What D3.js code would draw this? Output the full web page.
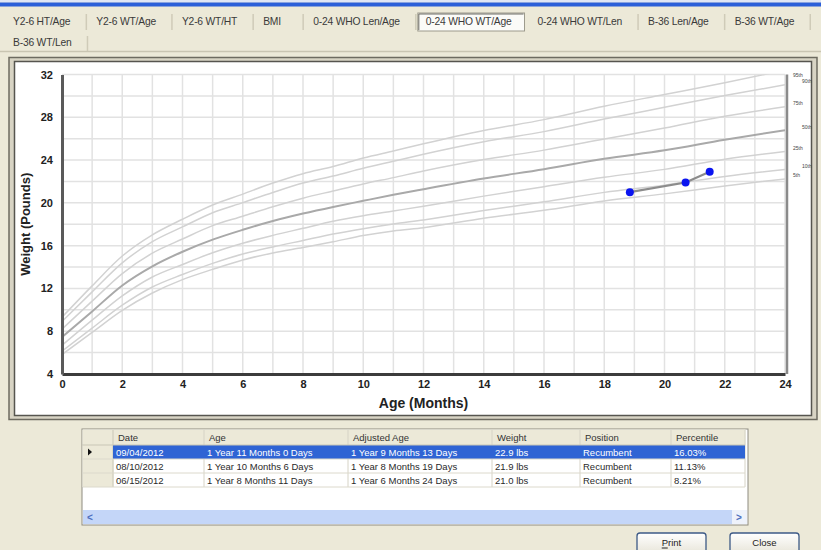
<!DOCTYPE html>
<html>
<head>
<meta charset="utf-8">
<script src="https://cdn.jsdelivr.net/npm/d3@7/dist/d3.min.js"></script>
<style>
body{margin:0;padding:0;background:#ece9d8;overflow:hidden;}
svg{display:block;}
text{font-family:"Liberation Sans",Arial,sans-serif;}
</style>
</head>
<body>
<svg id="chart" width="821" height="550"></svg>
<script>
// ---------------- DATA ----------------
const tabsRow1 = ["Y2-6 HT/Age","Y2-6 WT/Age","Y2-6 WT/HT","BMI","0-24 WHO Len/Age","0-24 WHO WT/Age","0-24 WHO WT/Len","B-36 Len/Age","B-36 WT/Age"];
const tabsRow2 = ["B-36 WT/Len"];
const selectedTab = "0-24 WHO WT/Age";

const ages = [0,1,2,3,4,5,6,7,8,9,10,11,12,14,16,18,20,22,24];
const p5  = [5.82,7.89,9.95,11.57,12.82,13.78,14.66,15.32,15.83,16.36,16.94,17.38,17.68,18.56,19.30,20.18,20.84,21.58,22.24];
const p10 = [6.14,8.29,10.43,12.13,13.30,14.34,15.22,15.88,16.48,17.08,17.58,18.02,18.40,19.28,20.10,20.98,21.65,22.47,23.13];
const p25 = [6.68,9.03,11.30,13.07,14.24,15.34,16.23,16.96,17.62,18.28,18.80,19.24,19.68,20.63,21.51,22.39,23.13,24.08,24.81];
const p50 = [7.45,9.85,12.28,14.07,15.43,16.56,17.48,18.30,19.00,19.62,20.19,20.75,21.27,22.27,23.15,24.12,24.91,25.90,26.79];
const p75 = [8.20,10.81,13.39,15.30,16.62,17.87,18.75,19.64,20.44,21.11,21.77,22.36,22.98,24.05,24.93,25.96,26.99,28.10,28.98];
const p90 = [8.91,11.68,14.39,16.37,17.75,19.08,20.02,20.97,21.85,22.51,23.23,23.89,24.55,25.72,26.66,27.83,28.93,30.03,31.04];
const p95 = [9.31,12.24,15.03,17.01,18.47,19.80,20.82,21.85,22.73,23.39,24.19,24.85,25.52,26.76,27.78,29.03,30.13,31.23,32.40];
const percentileNames = ["5th","10th","25th","50th","75th","90th","95th"];

const patientAge = [18.85,20.7,21.5];
const patientWeight = [21.0,21.9,22.9];

const xTicks = [0,2,4,6,8,10,12,14,16,18,20,22,24];
const yTicks = [4,8,12,16,20,24,28,32];
const xTitle = "Age (Months)";
const yTitle = "Weight (Pounds)";

const tableHeaders = ["Date","Age","Adjusted Age","Weight","Position","Percentile"];
const colDate = ["09/04/2012","08/10/2012","06/15/2012"];
const colAge = ["1 Year 11 Months 0 Days","1 Year 10 Months 6 Days","1 Year 8 Months 11 Days"];
const colAdjAge = ["1 Year 9 Months 13 Days","1 Year 8 Months 19 Days","1 Year 6 Months 24 Days"];
const colWeight = ["22.9 lbs","21.9 lbs","21.0 lbs"];
const colPosition = ["Recumbent","Recumbent","Recumbent"];
const colPercentile = ["16.03%","11.13%","8.21%"];
const buttons = ["Print","Close"];

// ---------------- DRAW ----------------
const svg = d3.select("#chart");

svg.append("rect").attr("width",821).attr("height",550).attr("fill","#ece9d8");
svg.append("rect").attr("x",0).attr("y",0).attr("width",821).attr("height",2.5).attr("fill","#dfe6f5");
svg.append("rect").attr("x",0).attr("y",2.5).attr("width",821).attr("height",4).attr("fill","#2b5fd9");

// tabs
const tabLayer = svg.append("g");
function drawTabs(list, yText, yTop){
  let cx = 3;
  list.forEach(t=>{
    const g = tabLayer.append("g");
    const tx = g.append("text").attr("x",cx+10).attr("y",yText)
      .attr("font-size",10.3).attr("fill","#3a3a3a").attr("letter-spacing",-0.2).text(t);
    const tw = tx.node().getComputedTextLength();
    const w = Math.max(tw+26, 50);
    if(t===selectedTab){
      g.insert("rect","text").attr("x",cx+2).attr("y",yTop).attr("width",w-5).attr("height",18)
        .attr("fill","#fbfbf8").attr("stroke","#9c9a8c").attr("stroke-width",1);
      g.append("line").attr("x1",cx+3).attr("x2",cx+w-4).attr("y1",yTop+1).attr("y2",yTop+1).attr("stroke","#6f6e66");
      g.append("line").attr("x1",cx+3).attr("x2",cx+3).attr("y1",yTop+1).attr("y2",yTop+17).attr("stroke","#6f6e66");
    } else {
      g.append("line").attr("x1",cx+w).attr("x2",cx+w).attr("y1",yTop+1).attr("y2",yTop+17)
        .attr("stroke","#cfcbb8").attr("stroke-width",1.5);
    }
    cx += w;
  });
}
drawTabs(tabsRow1, 25, 13);
drawTabs(tabsRow2, 46, 35);
svg.append("line").attr("x1",0).attr("x2",821).attr("y1",51.5).attr("y2",51.5).attr("stroke","#c9c5b2").attr("stroke-width",1.5);

// chart frame
svg.append("rect").attr("x",9).attr("y",57.5).attr("width",808).attr("height",362).attr("fill","#d8d4c4")
  .attr("stroke","#6d6b60").attr("stroke-width",1.5);
svg.append("rect").attr("x",14.5).attr("y",61.5).attr("width",797).attr("height",354).attr("fill","#ffffff")
  .attr("stroke","#56554f").attr("stroke-width",1.5);

// scales
const x = d3.scaleLinear().domain([0,24]).range([62,785]);
const y = d3.scaleLinear().domain([4,32]).range([374,74.5]);

// grid
const gridG = svg.append("g");
gridG.selectAll(".vg").data(d3.range(1,25)).join("line")
  .attr("x1",d=>x(d)).attr("x2",d=>x(d)).attr("y1",y(32)).attr("y2",y(4))
  .attr("stroke","#e2e2e2").attr("stroke-width",1.5);
gridG.selectAll(".hg").data(d3.range(6,33,2)).join("line")
  .attr("x1",x(0)).attr("x2",x(24)).attr("y1",d=>y(d)).attr("y2",d=>y(d))
  .attr("stroke","#e2e2e2").attr("stroke-width",1.5);

svg.append("clipPath").attr("id","plotclip").append("rect")
  .attr("x",x(0)).attr("y",y(32)).attr("width",x(24)-x(0)).attr("height",y(4)-y(32));

const series = [p5,p10,p25,p50,p75,p90,p95];
const line = d3.line().x(d=>x(d[0])).y(d=>y(d[1])).curve(d3.curveMonotoneX);
const curveG = svg.append("g").attr("clip-path","url(#plotclip)");
series.forEach((s,i)=>{
  const pts = ages.map((a,j)=>[a,s[j]]);
  curveG.append("path").attr("d",line(pts)).attr("fill","none")
    .attr("stroke", i===3 ? "#a9a9a9" : "#d2d2d2")
    .attr("stroke-width", i===3 ? 2 : 1.5);
});

// right percentile axis + labels
svg.append("line").attr("x1",x(24)+2).attr("x2",x(24)+2).attr("y1",y(32)).attr("y2",y(4))
  .attr("stroke","#8a8a8a").attr("stroke-width",2.5);
series.forEach((s,i)=>{
  const yy = Math.max(y(s[s.length-1])-3, y(32)+1);
  svg.append("text").attr("x", (i%2===0) ? x(24)+8 : x(24)+17).attr("y",yy)
    .attr("dominant-baseline","middle").attr("font-size",5).attr("fill","#444")
    .text(percentileNames[i]);
});

// axes
const xAxis = svg.append("g").attr("transform",`translate(0,${y(4)})`)
  .call(d3.axisBottom(x).tickValues(xTicks).tickSize(0).tickPadding(6));
xAxis.select(".domain").attr("stroke","#3c3c3c").attr("stroke-width",3);
xAxis.selectAll("text").attr("font-size",11).attr("font-weight","bold").attr("fill","#222")
  .style("font-family","'Liberation Sans',Arial,sans-serif");
const yAxis = svg.append("g").attr("transform",`translate(${x(0)},0)`)
  .call(d3.axisLeft(y).tickValues(yTicks).tickSize(0).tickPadding(9));
yAxis.select(".domain").attr("stroke","#5a5a5a").attr("stroke-width",3);
yAxis.selectAll("text").attr("font-size",11).attr("font-weight","bold").attr("fill","#222")
  .style("font-family","'Liberation Sans',Arial,sans-serif");
svg.append("text").attr("x",(x(0)+x(24))/2).attr("y",408).attr("text-anchor","middle")
  .attr("font-size",14).attr("font-weight","bold").attr("fill","#222").text(xTitle);
svg.append("text").attr("transform",`translate(30,${(y(4)+y(32))/2}) rotate(-90)`)
  .attr("text-anchor","middle").attr("font-size",13).attr("font-weight","bold").attr("fill","#222").text(yTitle);

// patient data
const pts = patientAge.map((a,i)=>[a,patientWeight[i]]);
svg.append("path").attr("d",d3.line().x(d=>x(d[0])).y(d=>y(d[1]))(pts))
  .attr("fill","none").attr("stroke","#8c8c8c").attr("stroke-width",2.2);
svg.selectAll(".pt").data(pts).join("circle")
  .attr("cx",d=>x(d[0])).attr("cy",d=>y(d[1])).attr("r",4).attr("fill","#0a14f0");

// ---------------- TABLE ----------------
const tX0 = 82, tX1 = 748, tY0 = 429, tY1 = 525;
const colX = [113,204,348,492,580,671];
const colEnd = [204,348,492,580,671,745];
const rowH = 14, headH = 16;
svg.append("rect").attr("x",tX0).attr("y",tY0).attr("width",tX1-tX0).attr("height",tY1-tY0)
  .attr("fill","#ffffff").attr("stroke","#8d8b80").attr("stroke-width",1);
svg.append("rect").attr("x",tX0+0.5).attr("y",tY0+0.5).attr("width",colEnd[5]-tX0).attr("height",headH)
  .attr("fill","#ece9d8");
svg.append("rect").attr("x",tX0+0.5).attr("y",tY0+headH).attr("width",colX[0]-tX0).attr("height",rowH*3)
  .attr("fill","#ece9d8");
tableHeaders.forEach((h,i)=>{
  svg.append("text").attr("x",colX[i]+5).attr("y",tY0+12).attr("font-size",9.5).attr("fill","#333").text(h);
  svg.append("line").attr("x1",colEnd[i]).attr("x2",colEnd[i]).attr("y1",tY0+1).attr("y2",tY0+headH+rowH*3)
    .attr("stroke","#d6d3c6");
});
svg.append("line").attr("x1",colX[0]).attr("x2",colX[0]).attr("y1",tY0+1).attr("y2",tY0+headH+rowH*3).attr("stroke","#c9c6b6");
const cols = [colDate,colAge,colAdjAge,colWeight,colPosition,colPercentile];
colDate.forEach((_,r)=>{
  const ry = tY0+headH+r*rowH;
  if(r===0){
    svg.append("rect").attr("x",colX[0]).attr("y",ry).attr("width",colEnd[5]-colX[0]).attr("height",rowH)
      .attr("fill","#2f64d4");
    svg.append("path").attr("d",`M${tX0+6},${ry+3.5} L${tX0+10},${ry+7} L${tX0+6},${ry+10.5} Z`).attr("fill","#111");
  }
  svg.append("line").attr("x1",tX0+1).attr("x2",colEnd[5]).attr("y1",ry+rowH).attr("y2",ry+rowH).attr("stroke","#dcd9cc");
  cols.forEach((c,i)=>{
    svg.append("text").attr("x",colX[i]+3).attr("y",ry+11).attr("font-size",9.5)
      .attr("fill", r===0 ? "#ffffff" : "#2a2a2a").text(c[r]);
  });
});
svg.append("line").attr("x1",tX0).attr("x2",colEnd[5]).attr("y1",tY0+headH).attr("y2",tY0+headH).attr("stroke","#c9c6b6");
// scrollbar
svg.append("rect").attr("x",tX0+1).attr("y",510).attr("width",tX1-tX0-2).attr("height",14).attr("fill","#c4d6f8");
svg.append("rect").attr("x",tX1-16).attr("y",510).attr("width",15).attr("height",14).attr("fill","#eef2fb");
svg.append("text").attr("x",tX0+5).attr("y",521).attr("font-size",10).attr("font-weight","bold").attr("fill","#4d6fbf").text("<");
svg.append("text").attr("x",tX1-12).attr("y",521).attr("font-size",10).attr("font-weight","bold").attr("fill","#4d6fbf").text(">");

// buttons
const btnX = [637,730];
const grad = svg.append("defs").append("linearGradient").attr("id","btng").attr("x1",0).attr("x2",0).attr("y1",0).attr("y2",1);
grad.append("stop").attr("offset","0%").attr("stop-color","#ffffff");
grad.append("stop").attr("offset","100%").attr("stop-color","#e6e3d6");
buttons.forEach((b,i)=>{
  svg.append("rect").attr("x",btnX[i]).attr("y",533).attr("width",69).attr("height",22).attr("rx",3)
    .attr("fill","url(#btng)").attr("stroke","#3d5a86").attr("stroke-width",1.3);
  const t = svg.append("text").attr("x",btnX[i]+34.5).attr("y",546).attr("text-anchor","middle")
    .attr("font-size",9.5).attr("fill","#222").text(b);
  if(i===0){
    const bb = t.node().getBBox();
    svg.append("line").attr("x1",bb.x).attr("x2",bb.x+6).attr("y1",548).attr("y2",548).attr("stroke","#222");
  }
});
</script>
</body>
</html>
